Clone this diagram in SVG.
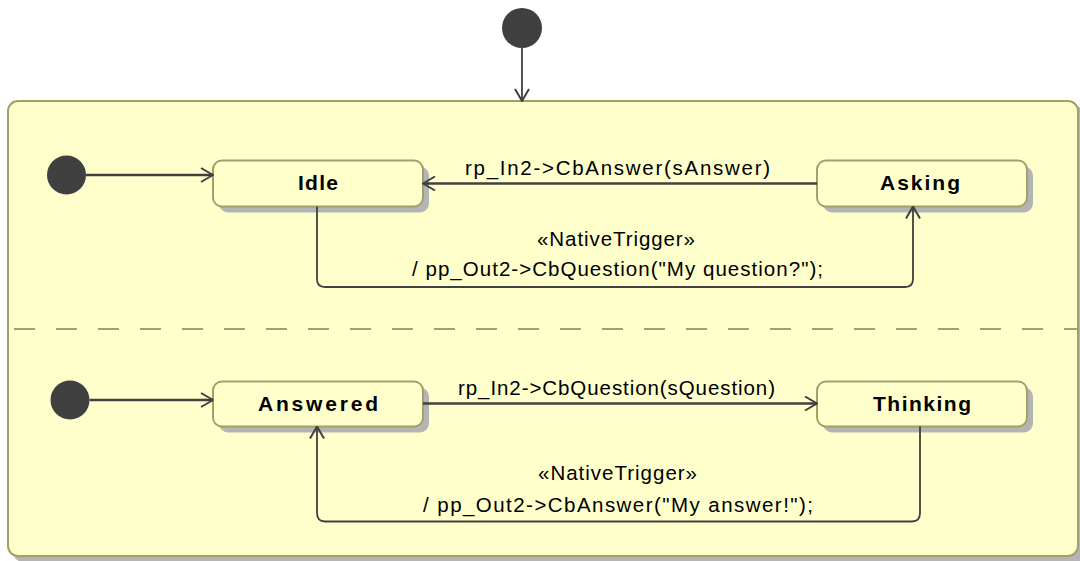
<svg xmlns="http://www.w3.org/2000/svg" width="1080" height="561" viewBox="0 0 1080 561">
<style>
.shadow{fill:#B4B4B4;stroke:none}
.box{fill:#FFFFCC;stroke:#A3A066;stroke-width:2}
.init{fill:#404040;stroke:none}
.name{font-family:"Liberation Sans",Arial,sans-serif;font-weight:bold;font-size:21px;fill:#000}
.lbl{font-family:"Liberation Sans",Arial,sans-serif;font-size:20.5px;fill:#000}
.tr{fill:none;stroke:#404040;stroke-width:2.5}
.loop{fill:none;stroke:#404040;stroke-width:1.8}
</style>
<defs>
<marker id="open" viewBox="0 0 14 16" refX="13" refY="8" markerWidth="14" markerHeight="16" markerUnits="userSpaceOnUse" orient="auto">
<path d="M1,1 L13,8 L1,15" fill="none" stroke="#404040" stroke-width="2"/>
</marker>
</defs>
<rect x="13" y="106" width="1072" height="456" rx="10" class="shadow"/>
<g id="container">
<rect x="8" y="101" width="1070" height="455" rx="10" class="box"/>
<line x1="14" y1="329" x2="1078" y2="329" stroke="#A3A066" stroke-width="2" stroke-dasharray="21 21"/>
</g>
<g id="init-top"><circle cx="522" cy="28" r="20" class="init"/></g>
<g id="init-1"><circle cx="66.5" cy="175" r="19.5" class="init"/></g>
<g id="init-2"><circle cx="70" cy="400" r="19.5" class="init"/></g>
<g id="idle">
<rect x="219" y="166.5" width="210" height="46" rx="9" class="shadow"/>
<rect x="213" y="160.5" width="210" height="46" rx="9" class="box"/>
<text x="298" y="189.5" class="name" textLength="40" lengthAdjust="spacing">Idle</text>
</g>
<g id="asking">
<rect x="823" y="166.5" width="210" height="46" rx="9" class="shadow"/>
<rect x="817" y="160.5" width="210" height="46" rx="9" class="box"/>
<text x="880" y="189.5" class="name" textLength="80" lengthAdjust="spacing">Asking</text>
</g>
<g id="answered">
<rect x="219" y="387.5" width="210" height="45" rx="9" class="shadow"/>
<rect x="213" y="381.5" width="210" height="45" rx="9" class="box"/>
<text x="258" y="410.5" class="name" textLength="120" lengthAdjust="spacing">Answered</text>
</g>
<g id="thinking">
<rect x="823" y="387.5" width="210" height="45" rx="9" class="shadow"/>
<rect x="817" y="381.5" width="210" height="45" rx="9" class="box"/>
<text x="873" y="410.5" class="name" textLength="98" lengthAdjust="spacing">Thinking</text>
</g>
<g id="connectors">
<line x1="522" y1="48" x2="522" y2="101" class="loop" marker-end="url(#open)"/>
<line x1="86" y1="175" x2="213" y2="175" class="tr" marker-end="url(#open)"/>
<line x1="817" y1="183.5" x2="423" y2="183.5" class="tr" marker-end="url(#open)"/>
<path d="M317,206.5 V279 Q317,287 325,287 H905 Q913,287 913,279 V206.5" class="loop" marker-end="url(#open)"/>
<line x1="89.5" y1="400" x2="213" y2="400" class="tr" marker-end="url(#open)"/>
<line x1="423" y1="403.5" x2="817" y2="403.5" class="tr" marker-end="url(#open)"/>
<path d="M920,426.5 V513 Q920,521.5 912,521.5 H325 Q317,521.5 317,513 V426.5" class="loop" marker-end="url(#open)"/>
<text x="465" y="175" class="lbl" textLength="305" lengthAdjust="spacing">rp_In2-&gt;CbAnswer(sAnswer)</text>
<text x="537" y="246" class="lbl" textLength="158" lengthAdjust="spacing">«NativeTrigger»</text>
<text x="412" y="276" class="lbl" textLength="411" lengthAdjust="spacing">/ pp_Out2-&gt;CbQuestion("My question?");</text>
<text x="458" y="395" class="lbl" textLength="317" lengthAdjust="spacing">rp_In2-&gt;CbQuestion(sQuestion)</text>
<text x="538" y="480" class="lbl" textLength="159" lengthAdjust="spacing">«NativeTrigger»</text>
<text x="423" y="512" class="lbl" textLength="390" lengthAdjust="spacing">/ pp_Out2-&gt;CbAnswer("My answer!");</text>
</g>
</svg>
